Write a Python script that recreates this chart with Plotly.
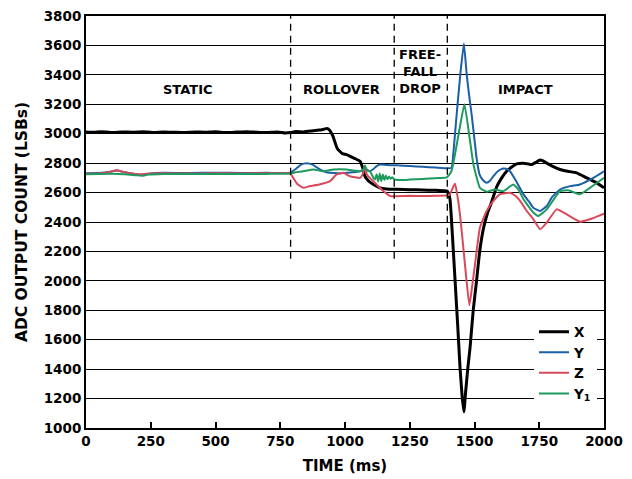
import plotly.graph_objects as go

# ---------------- data ----------------
t_x = [0, 30, 60, 100, 140, 180, 220, 260, 300, 340, 380, 420, 460, 500, 540, 580, 620, 660, 700, 740,
       770, 790, 810, 840, 870, 900, 915, 930, 940, 953, 970, 990, 1006, 1020, 1040, 1058, 1068, 1077,
       1090, 1100, 1120, 1135, 1160, 1200, 1250, 1300, 1350, 1380, 1395, 1405, 1415, 1425, 1435, 1444,
       1452, 1459, 1466, 1475, 1483, 1495, 1508, 1520, 1535, 1550, 1565, 1586, 1605, 1624, 1645, 1663,
       1688, 1705, 1721, 1737, 1753, 1765, 1779, 1800, 1830, 1860, 1894, 1933, 1972, 2000]
v_x = [3012, 3010, 3014, 3008, 3012, 3010, 3013, 3009, 3012, 3010, 3008, 3012, 3010, 3013, 3008, 3011,
       3014, 3010, 3008, 3012, 3005, 3008, 3015, 3012, 3018, 3025, 3028, 3036, 3025, 2985, 2900, 2865,
       2858, 2846, 2830, 2813, 2770, 2711, 2680, 2666, 2645, 2632, 2625, 2622, 2620, 2618, 2615, 2612,
       2610, 2560, 2300, 2001, 1700, 1415, 1220, 1110, 1250, 1420, 1550, 1800, 2001, 2200, 2360, 2460,
       2530, 2640, 2700, 2745, 2775, 2795, 2800, 2795, 2790, 2805, 2822, 2815, 2800, 2780, 2757, 2745,
       2734, 2700, 2666, 2632]

t_y = [0, 50, 90, 118, 150, 190, 215, 250, 300, 400, 500, 600, 700, 788, 810, 830, 852, 875, 903, 925,
       942, 980, 1020, 1058, 1070, 1080, 1095, 1110, 1122, 1135, 1160, 1200, 1250, 1300, 1350, 1395,
       1411, 1420, 1431, 1445, 1459, 1470, 1480, 1489, 1500, 1508, 1520, 1535, 1547, 1560, 1573, 1590,
       1611, 1625, 1637, 1660, 1689, 1710, 1727, 1753, 1779, 1800, 1830, 1869, 1907, 1959, 2000]
v_y = [2732, 2733, 2740, 2750, 2738, 2725, 2720, 2730, 2734, 2733, 2735, 2733, 2734, 2734, 2760, 2790,
       2800, 2790, 2757, 2740, 2734, 2732, 2736, 2745, 2750, 2760, 2745, 2760, 2780, 2790, 2788, 2785,
       2780, 2775, 2770, 2765, 2768, 2900, 3129, 3400, 3613, 3400, 3250, 3129, 2960, 2835, 2720, 2680,
       2666, 2680, 2711, 2745, 2763, 2760, 2745, 2680, 2588, 2540, 2497, 2475, 2509, 2570, 2621, 2644,
       2655, 2700, 2745]

t_z = [0, 50, 90, 118, 150, 190, 215, 250, 300, 400, 500, 600, 700, 788, 800, 815, 839, 865, 900, 942,
       968, 994, 1019, 1058, 1070, 1077, 1085, 1096, 1122, 1148, 1174, 1200, 1250, 1300, 1350, 1395,
       1405, 1418, 1425, 1432, 1444, 1463, 1480, 1490, 1502, 1521, 1547, 1573, 1598, 1637, 1660, 1676,
       1700, 1727, 1753, 1779, 1817, 1856, 1907, 1946, 2000]
v_z = [2728, 2730, 2740, 2752, 2738, 2726, 2724, 2730, 2731, 2729, 2731, 2730, 2731, 2730, 2700, 2660,
       2632, 2644, 2655, 2678, 2723, 2734, 2711, 2700, 2730, 2780, 2720, 2700, 2655, 2610, 2576, 2575,
       2578, 2577, 2578, 2582, 2588, 2640, 2660, 2600, 2452, 2114, 1835, 1950, 2114, 2362, 2475, 2543,
       2588, 2599, 2575, 2543, 2480, 2419, 2351, 2396, 2486, 2452, 2402, 2419, 2457]

t_y1 = [0, 50, 100, 150, 190, 215, 240, 300, 400, 500, 600, 700, 788, 810, 839, 878, 916, 955, 1006,
        1058, 1070, 1077, 1085, 1096, 1110, 1116, 1122, 1128, 1134, 1140, 1146, 1152, 1158, 1164, 1170,
        1176, 1182, 1190, 1212, 1250, 1300, 1350, 1393, 1411, 1436, 1461, 1483, 1496, 1521, 1547, 1579,
        1611, 1650, 1670, 1689, 1727, 1746, 1779, 1830, 1862, 1907, 1946, 2000]
v_y1 = [2725, 2727, 2728, 2724, 2718, 2714, 2722, 2727, 2726, 2727, 2726, 2727, 2730, 2738, 2745, 2757,
        2745, 2757, 2757, 2745, 2755, 2784, 2750, 2745, 2700, 2689, 2725, 2675, 2730, 2678, 2722, 2685,
        2716, 2690, 2710, 2693, 2704, 2690, 2685, 2688, 2693, 2698, 2703, 2745, 2970, 3200, 2948, 2790,
        2632, 2605, 2621, 2610, 2655, 2620, 2554, 2464, 2441, 2486, 2610, 2615, 2588, 2632, 2700]

phase_labels = ["STATIC", "ROLLOVER", "FREE-<br>FALL<br>DROP", "IMPACT"]
phase_x = [394, 988, 1290, 1695]
phase_y = [3300, 3300, 3421, 3300]
divider_x = [790, 1190, 1395]
divider_bottom = 2150

x_ticks = [0, 250, 500, 750, 1000, 1250, 1500, 1750, 2000]

# ---------------- figure ----------------
FONT = "DejaVu Sans, Verdana, sans-serif"
fig = go.Figure()

series = [
    ("X", t_x, v_x, "#000000", 3),
    ("Y", t_y, v_y, "#1b5fa5", 2),
    ("Z", t_z, v_z, "#d9495a", 2),
    ("Y<sub>1</sub>", t_y1, v_y1, "#1d9a5f", 2),
]
for name, tx, vy, col, w in series:
    fig.add_trace(go.Scatter(x=tx, y=vy, mode="lines", name=name,
                             line=dict(color=col, width=w, shape="spline", smoothing=0.4)))

for dx in divider_x:
    fig.add_shape(type="line", x0=dx, x1=dx, y0=divider_bottom, y1=3800, xref="x", yref="y",
                  line=dict(color="black", width=1.3, dash="7px,5px"))

for lab, px, py in zip(phase_labels, phase_x, phase_y):
    fig.add_annotation(x=px, y=py, text=lab, showarrow=False, xref="x", yref="y",
                       font=dict(family=FONT, size=13, color="black", weight="bold"))

fig.update_layout(
    width=632, height=479,
    margin=dict(l=78, r=36, t=8, b=59, autoexpand=False),
    paper_bgcolor="white", plot_bgcolor="white",
    font=dict(family=FONT, size=13.5, color="black", weight="bold"),
    showlegend=True,
    legend=dict(x=0.9865, y=0.045, xanchor="right", yanchor="bottom", bgcolor="white",
                font=dict(family=FONT, size=13.5, color="black", weight="bold"),
                itemwidth=30, tracegroupgap=0),
)
fig.update_xaxes(range=[0, 2000], tickvals=x_ticks, ticks="inside", ticklen=6, tickwidth=1.5,
                 tickcolor="black", showline=True, linecolor="black", linewidth=2, mirror=True,
                 showgrid=False, zeroline=False, automargin=False, ticklabeloverflow="allow",
                 title=dict(text="TIME (ms)", font=dict(family=FONT, size=15, weight="bold"), standoff=12),
                 tickfont=dict(family=FONT, size=13.5, weight="bold"))
fig.update_yaxes(range=[1000, 3800], dtick=200, tick0=1000, ticks="inside", ticklen=5, tickcolor="black",
                 showline=True, linecolor="black", linewidth=2, mirror=True, automargin=False,
                 ticklabeloverflow="allow",
                 showgrid=True, gridcolor="black", gridwidth=1.3, zeroline=False,
                 title=dict(text="ADC OUTPUT COUNT (LSBs)", font=dict(family=FONT, size=15.5, weight="bold"),
                            standoff=12),
                 tickfont=dict(family=FONT, size=13.5, weight="bold"))

fig.write_html("out.html")
